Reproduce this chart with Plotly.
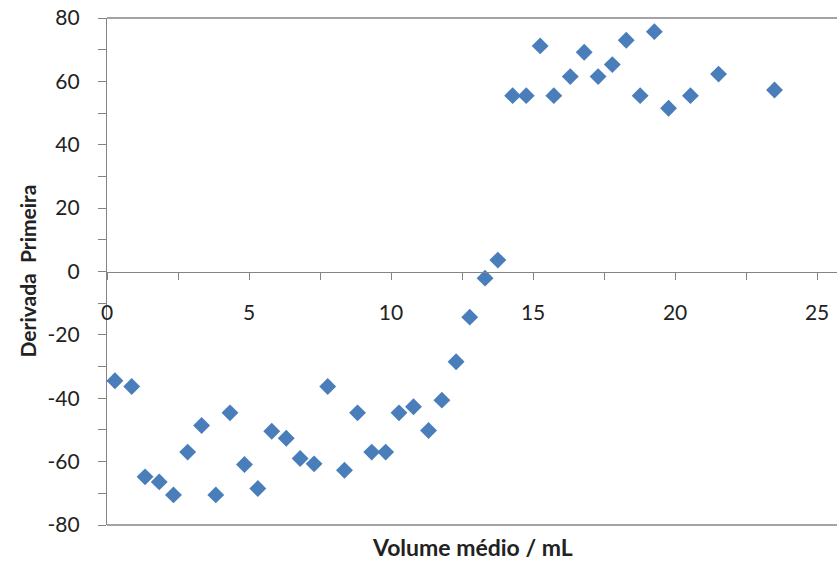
import plotly.graph_objects as go

volume_medio = [0.28, 0.87, 1.34, 1.84, 2.34, 2.84, 3.33, 3.83, 4.33, 4.84,
                5.31, 5.80, 6.31, 6.80, 7.29, 7.77, 8.36, 8.82, 9.32, 9.81,
                10.28, 10.79, 11.32, 11.79, 12.29, 12.77, 13.31, 13.76, 14.28, 14.76,
                15.25, 15.73, 16.31, 16.80, 17.29, 17.79, 18.28, 18.77, 19.27, 19.77,
                20.54, 21.53, 23.50]
derivada_primeira = [-34.5, -36.3, -64.8, -66.4, -70.5, -57.0, -48.6, -70.5, -44.6, -60.9,
                     -68.5, -50.4, -52.6, -59.0, -60.7, -36.3, -62.7, -44.6, -57.0, -57.0,
                     -44.6, -42.7, -50.2, -40.6, -28.5, -14.4, -2.1, 3.6, 55.5, 55.5,
                     71.2, 55.5, 61.5, 69.2, 61.5, 65.3, 73.0, 55.5, 75.7, 51.5,
                     55.5, 62.3, 57.3]

y_ticks = [-80, -60, -40, -20, 0, 20, 40, 60, 80]
y_tick_labels = ["-80", "-60", "-40", "-20", "0", "20", "40", "60", "80"]
x_ticks = [0, 5, 10, 15, 20, 25]
x_tick_labels = ["0", "5", "10", "15", "20", "25"]

fig = go.Figure()
fig.add_trace(go.Scatter(
    x=volume_medio, y=derivada_primeira, mode="markers",
    marker=dict(symbol="diamond", size=13, color="#4A7EBB", line=dict(width=0)),
    showlegend=False,
))

axis_gray = "#848484"
text_color = "#222222"
fig.update_layout(
    width=837, height=561,
    margin=dict(l=107, r=0, t=18, b=36),
    paper_bgcolor="white", plot_bgcolor="white",
    font=dict(family="Lato, 'Open Sans', sans-serif", size=21, color=text_color),
    xaxis=dict(
        range=[0, 25.7], anchor="free", position=0.5,
        tickvals=x_ticks, ticktext=x_tick_labels,
        ticks="outside", ticklen=7, tickcolor=axis_gray,
        minor=dict(dtick=2.5, tick0=0, ticks="outside", ticklen=7, tickcolor=axis_gray),
        showline=True, linecolor=axis_gray, linewidth=1.4,
        showgrid=False, zeroline=False, ticklabelstandoff=15,
        tickfont=dict(size=21, color=text_color),
    ),
    yaxis=dict(
        range=[-80, 80], tickvals=y_ticks, ticktext=y_tick_labels,
        ticks="outside", ticklen=8, tickcolor=axis_gray,
        minor=dict(dtick=10, tick0=0, ticks="outside", ticklen=8, tickcolor=axis_gray),
        showline=True, linecolor=axis_gray, linewidth=1.4,
        showgrid=False, zeroline=False, ticklabelstandoff=14,
        tickfont=dict(size=21, color=text_color),
    ),
    shapes=[
        dict(type="line", xref="paper", yref="paper", x0=0, x1=1.02, y0=1, y1=1,
             line=dict(color=axis_gray, width=1.4)),
        dict(type="line", xref="paper", yref="paper", x0=0, x1=1.02, y0=0, y1=0,
             line=dict(color=axis_gray, width=1.4)),
    ],
    annotations=[
        dict(text="<b>Volume médio / mL</b>", xref="paper", yref="paper",
             x=0.5, y=0, yshift=-22, showarrow=False, xanchor="center", yanchor="middle",
             font=dict(size=23, color=text_color)),
        dict(text="<b>Derivada  Primeira</b>", xref="paper", yref="paper",
             x=0, xshift=-80, y=0.5, showarrow=False, textangle=-90,
             xanchor="center", yanchor="middle",
             font=dict(size=21, color=text_color)),
    ],
)

fig.write_html("out.html")
